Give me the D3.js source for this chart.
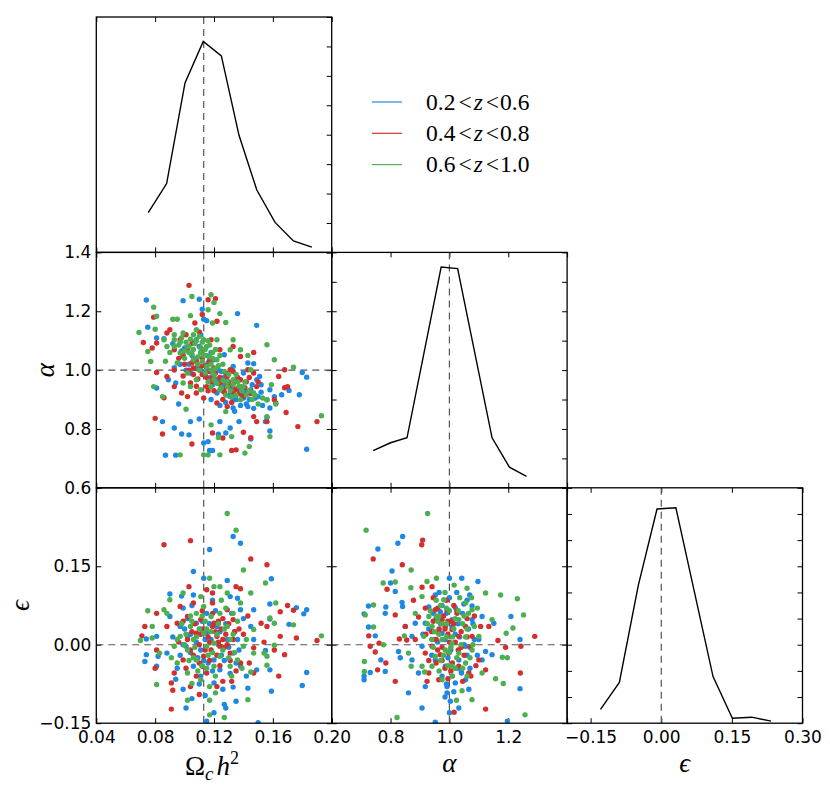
<!DOCTYPE html>
<html>
<head>
<meta charset="utf-8">
<script src="https://cdn.jsdelivr.net/npm/d3@7"></script>
<style>
  body { margin: 0; background: #fff; }
</style>
</head>
<body>
<svg id="chart" width="830" height="793"></svg>
<script>
// ---- data ----
const zBins = [[0.2, 0.6], [0.4, 0.8], [0.6, 1.0]];
const zColors = ["#1e88e5", "#d32f2f", "#4caf50"];

const omegaTicks = [0.04, 0.08, 0.12, 0.16, 0.20];
const alphaTicks = [0.6, 0.8, 1.0, 1.2, 1.4];
const alphaBottomLabels = [0.8, 1.0, 1.2];
const epsTicks = [-0.15, 0.0, 0.15, 0.30];
const epsLeftLabels = [-0.15, 0.0, 0.15];

const omegaFid = 0.113, alphaFid = 1.0, epsFid = 0.0;

// 1D marginal curves (bin centre, density)
const omegaCentres = [0.0753, 0.0878, 0.1003, 0.1127, 0.1250, 0.1370, 0.1491, 0.1615, 0.1740, 0.1865];
const omegaDensity = [1.35, 2.34, 5.76, 7.17, 6.68, 3.98, 2.12, 1.02, 0.39, 0.18];
const alphaCentres = [0.741, 0.800, 0.856, 0.972, 1.028, 1.145, 1.204, 1.262];
const alphaDensity = [1.26, 1.53, 1.70, 7.50, 7.45, 1.70, 0.70, 0.39];
const epsCentres = [-0.129, -0.089, -0.049, -0.009, 0.031, 0.110, 0.151, 0.192, 0.233];
const epsDensity = [0.53, 1.56, 5.25, 8.19, 8.24, 1.78, 0.19, 0.23, 0.08];

// Omega_c h^2 vs alpha
const omegaAlphaZ1 = [[0.074,1.238],[0.099,1.236],[0.110,1.241],[0.112,1.207],[0.136,1.192],[0.149,1.152],[0.075,1.146],[0.081,1.109],[0.086,1.107],[0.115,1.168],[0.180,0.992],[0.183,0.976],[0.178,0.916],[0.183,0.731],[0.158,0.793],[0.155,0.825],[0.166,0.916],[0.171,0.931],[0.085,0.825],[0.093,0.803],[0.098,0.783],[0.103,0.780],[0.104,0.825],[0.110,0.834],[0.113,0.752],[0.116,0.757],[0.117,0.727],[0.119,0.727],[0.123,0.782],[0.128,0.786],[0.124,0.825],[0.131,0.803],[0.137,0.825],[0.145,0.766],[0.156,0.839],[0.087,0.711],[0.094,0.711],[0.096,0.885],[0.158,0.871],[0.161,0.910],[0.093,1.008],[0.089,0.967],[0.094,0.956],[0.099,1.046],[0.108,1.103],[0.111,1.120],[0.104,0.990],[0.118,0.976],[0.120,1.035],[0.124,0.967],[0.127,1.052],[0.133,1.012],[0.131,0.910],[0.133,0.899],[0.122,0.922],[0.138,0.944],[0.143,1.024],[0.147,1.022],[0.151,0.978],[0.152,0.950],[0.145,0.933],[0.149,0.967],[0.158,0.933],[0.143,0.876],[0.133,0.871],[0.156,0.899],[0.113,1.173],[0.110,1.080],[0.081,0.939],[0.105,1.050],[0.115,1.010],[0.125,0.995],[0.100,1.075],[0.118,1.060],[0.128,0.950],[0.140,0.905],[0.092,1.090],
  [0.103,1.020],[0.107,1.005],[0.112,0.995],[0.116,1.025],[0.119,0.950],[0.123,1.000],[0.126,0.930],[0.129,0.960],[0.132,0.940],[0.135,0.900],[0.138,0.880],[0.141,0.930],[0.144,0.900],[0.147,0.870],[0.150,0.910],[0.153,0.880],[0.128,0.890],[0.134,0.860],[0.124,0.880],[0.111,1.060],[0.108,1.040],[0.097,1.020],[0.118,0.900],[0.140,0.990],[0.146,0.950],
  [0.114,0.985],[0.121,0.970],[0.127,0.975],[0.130,0.915],[0.136,0.935],[0.139,0.915],[0.142,0.885],[0.148,0.905],[0.152,0.925],[0.109,1.015],[0.101,1.000],[0.098,1.065],[0.106,1.095],[0.117,1.040],[0.125,0.945]];
const omegaAlphaZ2 = [[0.103,1.288],[0.116,1.239],[0.121,1.243],[0.079,1.180],[0.112,1.189],[0.122,1.166],[0.072,1.094],[0.078,1.075],[0.081,0.992],[0.086,0.906],[0.080,0.836],[0.085,0.783],[0.105,0.749],[0.119,0.786],[0.126,0.769],[0.132,0.727],[0.135,0.729],[0.145,0.770],[0.140,0.789],[0.149,0.825],[0.156,0.825],[0.169,0.856],[0.177,0.808],[0.190,0.825],[0.168,0.940],[0.170,0.944],[0.168,1.001],[0.164,0.978],[0.161,0.899],[0.162,0.888],[0.147,1.060],[0.138,1.046],[0.143,1.001],[0.147,0.990],[0.138,0.967],[0.129,0.978],[0.124,1.069],[0.131,1.001],[0.120,1.007],[0.111,1.012],[0.106,1.007],[0.104,0.956],[0.102,0.910],[0.108,0.922],[0.115,0.944],[0.122,0.888],[0.129,0.876],[0.133,0.922],[0.097,1.103],[0.102,1.069],[0.093,1.069],[0.088,1.126],[0.090,1.137],[0.081,1.092],[0.088,0.978],[0.093,0.944],[0.098,0.922],[0.113,1.069],[0.118,1.103],[0.107,1.160],[0.133,1.080],[0.147,0.842],[0.149,0.944],[0.108,1.030],[0.117,0.995],[0.125,0.960],[0.112,0.985],[0.135,0.935],
  [0.100,1.020],[0.103,1.000],[0.106,0.985],[0.109,0.970],[0.112,1.040],[0.115,0.975],[0.118,0.960],[0.121,0.990],[0.124,0.975],[0.127,0.940],[0.130,0.960],[0.133,0.995],[0.136,0.975],[0.139,0.940],[0.142,0.960],[0.145,0.920],[0.096,1.040],[0.093,1.000],[0.099,0.980],[0.105,1.090],[0.110,1.130],[0.101,1.120],[0.117,1.030],[0.120,0.930],[0.126,0.900],[0.132,0.890],[0.113,0.905],[0.108,0.945],[0.140,0.910],[0.150,0.960],
  [0.105,1.025],[0.110,1.000],[0.114,1.015],[0.119,0.975],[0.123,0.955],[0.128,0.990],[0.131,0.945],[0.134,0.960],[0.137,0.920],[0.141,0.940],[0.099,1.050],[0.102,0.995],[0.116,0.930],[0.127,0.925],[0.144,0.975]];
const omegaAlphaZ3 = [[0.118,1.256],[0.105,1.250],[0.120,1.230],[0.116,1.205],[0.079,1.214],[0.081,1.183],[0.092,1.173],[0.095,1.173],[0.104,1.185],[0.124,1.192],[0.119,1.160],[0.128,1.162],[0.069,1.128],[0.080,1.139],[0.075,1.063],[0.077,1.029],[0.079,0.944],[0.085,0.910],[0.101,0.867],[0.118,0.814],[0.116,0.712],[0.113,0.712],[0.124,0.712],[0.097,0.712],[0.123,0.771],[0.141,0.718],[0.144,0.740],[0.132,0.774],[0.128,0.859],[0.156,0.899],[0.156,0.842],[0.158,0.774],[0.156,1.086],[0.161,1.035],[0.174,1.010],[0.193,0.845],[0.159,0.950],[0.162,0.885],[0.138,1.069],[0.143,1.050],[0.145,1.001],[0.140,0.944],[0.147,0.922],[0.138,0.899],[0.133,1.103],[0.131,1.069],[0.122,1.103],[0.115,1.080],[0.111,1.058],[0.106,1.035],[0.102,1.080],[0.097,1.058],[0.093,1.103],[0.088,1.080],[0.086,1.103],[0.095,1.024],[0.102,0.990],[0.108,0.967],[0.111,0.933],[0.118,0.944],[0.120,0.967],[0.124,0.933],[0.129,0.944],[0.133,0.967],[0.115,1.012],[0.122,1.035],[0.113,1.103],[0.108,1.137],[0.099,1.126],[0.093,1.080],[0.104,0.944],[0.099,0.956],[0.110,1.000],[0.117,1.045],[0.126,1.020],[0.135,0.985],
  [0.098,1.110],[0.101,1.095],[0.104,1.105],[0.107,1.090],[0.110,1.115],[0.112,1.095],[0.114,1.070],[0.117,1.085],[0.119,1.060],[0.100,1.040],[0.103,1.060],[0.106,1.070],[0.109,1.045],[0.112,1.030],[0.115,1.050],[0.118,1.020],[0.121,1.005],[0.124,1.050],[0.127,0.995],[0.130,0.985],[0.133,0.950],[0.136,0.960],[0.139,0.930],[0.142,0.915],[0.146,0.900],[0.150,0.885],[0.125,0.940],[0.128,0.915],[0.131,0.930],[0.120,0.985],[0.096,1.085],[0.093,1.120],[0.090,1.060],[0.087,1.030],[0.106,1.120],[0.116,0.960],[0.122,0.955],[0.135,0.915],[0.141,0.960],[0.153,0.905],
  [0.100,1.065],[0.103,1.080],[0.105,1.055],[0.108,1.100],[0.111,1.075],[0.113,1.050],[0.116,1.100],[0.119,1.040],[0.121,1.070],[0.123,1.015],[0.126,0.965],[0.129,0.960],[0.132,0.910],[0.137,0.945],[0.144,0.930],[0.148,0.915],[0.097,1.095],[0.109,1.020],[0.114,0.990],[0.118,1.000]];

// Omega_c h^2 vs epsilon
const omegaEpsZ1 = [[0.117,0.182],[0.133,0.207],[0.138,0.194],[0.106,0.140],[0.113,0.127],[0.129,0.123],[0.159,0.126],[0.090,0.097],[0.098,0.093],[0.106,0.095],[0.136,0.089],[0.138,0.067],[0.147,0.067],[0.158,0.078],[0.176,0.071],[0.181,0.059],[0.183,0.067],[0.171,0.039],[0.158,0.049],[0.074,0.011],[0.081,0.016],[0.073,-0.032],[0.074,-0.019],[0.082,-0.022],[0.088,-0.016],[0.081,-0.041],[0.094,-0.066],[0.099,-0.085],[0.101,-0.121],[0.105,-0.103],[0.111,-0.060],[0.114,-0.097],[0.115,-0.146],[0.120,-0.130],[0.127,-0.114],[0.128,-0.121],[0.133,-0.081],[0.135,-0.108],[0.143,-0.083],[0.150,-0.149],[0.149,-0.048],[0.155,-0.011],[0.158,-0.048],[0.159,-0.089],[0.180,-0.078],[0.183,-0.053],[0.120,-0.029],[0.111,-0.010],[0.102,0.016],[0.108,0.041],[0.115,0.060],[0.122,0.035],[0.129,0.010],[0.133,-0.016],[0.138,-0.041],[0.124,-0.048],[0.106,-0.041],[0.097,0.035],[0.090,0.054],[0.145,0.035],[0.147,0.010],[0.115,0.022],[0.099,0.070],[0.120,-0.073],[0.101,-0.003],[0.131,0.092],
  [0.100,0.030],[0.104,-0.015],[0.108,0.005],[0.112,0.045],[0.116,-0.035],[0.118,0.010],[0.121,0.065],[0.125,-0.020],[0.128,0.040],[0.131,-0.055],[0.134,0.025],[0.137,-0.010],[0.140,0.050],[0.095,-0.045],[0.092,0.015],[0.110,-0.075],[0.126,-0.085],[0.105,0.075],[0.119,0.085],[0.142,-0.060],[0.097,-0.020],[0.113,-0.030],[0.123,0.000],[0.135,-0.035],[0.102,0.050],
  [0.104,0.020],[0.109,-0.025],[0.114,0.010],[0.119,-0.050],[0.124,0.025],[0.127,-0.030],[0.132,0.060],[0.136,0.010],[0.111,0.030],[0.099,0.000],[0.117,0.040],[0.130,-0.005]];
const omegaEpsZ2 = [[0.086,0.191],[0.104,0.199],[0.145,0.164],[0.156,0.153],[0.103,0.111],[0.135,0.111],[0.138,0.107],[0.119,0.099],[0.170,0.075],[0.174,0.066],[0.165,0.063],[0.156,0.035],[0.165,0.016],[0.176,0.013],[0.190,0.008],[0.154,0.005],[0.161,-0.010],[0.168,-0.019],[0.164,-0.060],[0.147,-0.054],[0.138,-0.035],[0.131,-0.016],[0.126,0.010],[0.124,-0.003],[0.122,0.016],[0.120,0.041],[0.129,0.067],[0.133,0.048],[0.111,0.048],[0.108,0.022],[0.102,0.054],[0.095,0.041],[0.088,0.035],[0.081,0.060],[0.073,0.035],[0.071,0.017],[0.081,-0.010],[0.080,-0.045],[0.093,-0.054],[0.091,-0.073],[0.092,-0.087],[0.091,-0.123],[0.110,-0.095],[0.115,-0.054],[0.122,-0.080],[0.126,-0.070],[0.132,-0.070],[0.144,-0.035],[0.099,-0.029],[0.104,-0.010],[0.113,-0.022],[0.133,0.010],[0.097,0.073],[0.106,0.080],[0.119,0.080],[0.115,0.105],[0.104,-0.080],[0.112,-0.041],[0.147,-0.006],[0.152,0.041],
  [0.110,0.000],[0.113,0.030],[0.116,0.015],[0.118,-0.010],[0.121,0.025],[0.123,0.005],[0.125,0.030],[0.127,-0.005],[0.128,0.020],[0.130,0.040],[0.117,-0.030],[0.105,0.025],[0.101,-0.045],[0.096,0.005],[0.108,-0.060],[0.119,0.060],[0.135,-0.050],[0.140,0.020],[0.124,-0.040],[0.112,0.065],[0.099,0.045],[0.137,0.030],[0.106,-0.020],[0.131,-0.030],[0.143,0.055],
  [0.107,0.040],[0.111,0.020],[0.114,-0.010],[0.119,0.035],[0.122,-0.020],[0.126,0.050],[0.129,0.000],[0.134,0.025],[0.102,0.010],[0.117,0.005],[0.123,0.045],[0.110,-0.035]];
const omegaEpsZ3 = [[0.129,0.251],[0.135,0.219],[0.140,0.143],[0.155,0.118],[0.117,0.127],[0.124,0.111],[0.099,0.099],[0.090,0.086],[0.086,0.067],[0.075,0.065],[0.078,0.035],[0.070,0.008],[0.078,0.013],[0.083,-0.016],[0.081,-0.076],[0.102,-0.106],[0.105,-0.074],[0.117,-0.106],[0.117,-0.134],[0.127,-0.139],[0.121,-0.092],[0.143,-0.105],[0.145,-0.052],[0.156,-0.022],[0.156,-0.039],[0.161,-0.001],[0.161,0.041],[0.162,0.080],[0.158,0.051],[0.174,0.038],[0.193,0.017],[0.145,0.099],[0.138,0.080],[0.133,0.060],[0.129,0.035],[0.124,0.060],[0.118,0.054],[0.113,0.073],[0.108,0.060],[0.104,0.035],[0.102,-0.010],[0.108,-0.029],[0.115,-0.003],[0.120,0.003],[0.124,-0.022],[0.131,-0.041],[0.136,-0.029],[0.140,-0.003],[0.147,0.029],[0.097,0.016],[0.093,-0.003],[0.095,-0.035],[0.102,-0.054],[0.111,-0.067],[0.120,-0.041],[0.113,0.022],[0.106,0.010],[0.088,0.060],[0.111,0.092],[0.120,0.111],[0.129,0.099],[0.147,-0.016],[0.154,-0.016],
  [0.098,0.040],[0.101,0.020],[0.104,0.055],[0.107,-0.005],[0.110,0.030],[0.112,-0.040],[0.114,0.045],[0.116,-0.020],[0.118,0.025],[0.121,-0.060],[0.123,0.040],[0.126,-0.010],[0.128,0.070],[0.130,-0.025],[0.133,0.020],[0.136,0.045],[0.139,-0.045],[0.142,0.010],[0.095,0.010],[0.091,-0.025],[0.117,-0.080],[0.125,0.085],[0.109,-0.050],[0.103,-0.030],[0.132,-0.060],
  [0.100,0.000],[0.105,0.045],[0.108,0.015],[0.112,0.055],[0.115,0.030],[0.119,-0.015],[0.122,0.020],[0.127,0.030],[0.131,0.010],[0.134,-0.015],[0.106,-0.025],[0.115,-0.045]];

// alpha vs epsilon
const alphaEpsZ1 = [[0.841,0.207],[0.825,0.194],[0.757,0.183],[0.805,0.141],[0.725,0.074],[0.710,0.059],[0.725,0.034],[0.748,0.017],[0.782,0.060],[0.784,0.072],[0.800,0.118],[0.816,0.102],[0.839,0.081],[0.841,0.073],[0.710,-0.060],[0.710,-0.067],[0.731,-0.053],[0.767,-0.029],[0.782,-0.051],[0.827,-0.013],[0.833,-0.025],[0.861,-0.092],[0.907,-0.121],[0.918,-0.080],[0.952,-0.148],[0.992,-0.080],[0.992,-0.092],[1.003,-0.108],[1.032,-0.121],[1.066,-0.085],[1.041,-0.054],[1.000,0.127],[1.042,0.127],[1.097,0.121],[1.069,0.095],[1.111,0.054],[1.151,0.041],[1.209,0.054],[1.240,0.010],[1.240,-0.084],[1.197,-0.146],[1.145,-0.019],[1.123,-0.013],[0.930,0.072],[0.952,0.095],[1.020,0.071],[1.049,0.078],[1.077,0.074],[1.077,0.048],[1.009,0.048],[0.975,0.022],[0.918,0.041],[0.884,0.041],[0.873,0.016],[0.907,-0.003],[0.952,-0.029],[0.986,-0.041],[1.032,-0.029],[1.055,-0.003],[1.100,0.010],[1.111,-0.029],[0.873,-0.029],[0.895,-0.054],[1.055,-0.067],[1.020,-0.073],[0.850,0.035],[0.969,0.063],
  [0.930,0.030],[0.955,0.050],[0.975,0.075],[1.000,0.090],[1.025,0.100],[1.045,0.060],[1.065,0.030],[1.085,0.010],[1.095,-0.020],[1.070,-0.045],[1.040,-0.050],[1.010,-0.060],[0.985,-0.100],[1.000,-0.130],[0.960,0.005],[0.940,-0.020],[0.910,0.020],[0.985,0.010],[1.020,0.020],[1.050,0.000],[0.995,-0.025],[1.060,0.085],[0.965,0.100],[1.015,-0.090],[1.030,0.040],
  [0.950,0.010],[0.970,0.040],[0.990,0.060],[1.010,0.035],[1.035,0.015],[1.060,-0.020],[1.005,-0.010],[0.975,-0.060],[1.025,-0.045],[0.945,0.060],[1.080,0.040],[0.990,-0.075]];
const alphaEpsZ2 = [[0.909,0.200],[0.906,0.191],[0.741,0.164],[0.840,0.153],[0.788,0.106],[0.816,0.057],[0.726,0.017],[0.731,-0.003],[0.748,-0.014],[0.761,0.003],[0.784,-0.035],[0.756,-0.048],[0.816,-0.070],[0.850,0.035],[0.855,0.009],[0.830,0.011],[0.878,0.085],[0.907,0.110],[0.941,0.111],[0.918,0.070],[0.952,0.067],[0.975,0.048],[0.986,0.035],[0.964,0.022],[1.009,0.029],[1.032,0.016],[1.055,0.035],[1.077,0.016],[1.106,0.035],[1.134,0.035],[1.165,0.008],[1.191,-0.005],[1.243,-0.003],[1.290,0.016],[1.241,-0.054],[1.123,-0.048],[1.100,-0.029],[1.066,-0.054],[1.032,-0.041],[0.998,-0.016],[0.969,-0.019],[0.941,-0.003],[0.918,-0.016],[0.930,-0.054],[0.964,-0.067],[0.924,-0.070],[1.016,-0.129],[1.123,-0.123],[1.073,-0.060],[0.895,0.053],[0.884,0.010],[0.992,0.067],[1.026,0.060],
  [0.945,0.045],[0.960,0.070],[0.980,0.055],[0.995,0.020],[1.005,0.045],[1.020,0.005],[1.040,0.025],[1.060,0.050],[1.050,-0.020],[1.030,-0.010],[0.975,-0.005],[0.955,-0.035],[0.985,-0.045],[1.010,-0.035],[0.945,0.090],[0.990,0.085],[0.930,-0.030],[1.085,0.055],[1.070,-0.005],[0.965,0.030],[0.995,-0.065],[1.045,-0.070],[0.920,0.020],[1.015,0.075],[1.090,-0.040],
  [0.955,0.010],[0.970,0.050],[0.985,0.030],[1.000,0.005],[1.015,0.040],[1.025,0.065],[1.040,-0.005],[0.975,-0.030],[0.995,0.045],[1.005,-0.050],[0.960,-0.010],[1.060,0.015],[0.940,0.025]];
const alphaEpsZ3 = [[0.926,0.251],[0.717,0.219],[0.870,0.143],[0.775,0.118],[0.816,0.120],[0.869,0.109],[0.742,0.076],[0.714,0.057],[0.742,0.034],[0.776,0.000],[0.847,0.017],[0.711,-0.032],[0.711,-0.051],[0.822,-0.139],[0.870,-0.041],[0.916,-0.052],[0.924,0.121],[0.956,0.127],[1.016,0.114],[1.060,0.108],[1.123,0.099],[1.174,0.095],[1.231,0.088],[1.252,0.057],[1.216,0.032],[1.193,0.022],[1.197,-0.025],[1.180,-0.024],[1.157,-0.065],[1.183,-0.074],[1.257,-0.134],[1.077,-0.105],[1.043,-0.088],[1.024,-0.106],[0.975,-0.067],[0.941,-0.041],[0.913,0.016],[0.941,0.035],[0.964,0.054],[0.930,0.054],[0.975,0.010],[1.009,0.003],[0.986,-0.010],[1.032,-0.016],[1.055,-0.035],[1.077,-0.010],[1.100,0.016],[1.077,0.067],[1.055,0.080],[1.032,0.048],[1.009,-0.041],[0.952,-0.022],[0.884,0.060],[0.907,0.092],[1.145,0.048],[1.111,-0.054],[0.907,-0.041],[0.861,-0.016],[0.981,0.086],
  [0.935,0.065],[0.950,0.025],[0.960,0.045],[0.970,0.075],[0.980,-0.020],[0.990,0.040],[1.000,0.065],[1.010,0.015],[1.020,0.050],[1.035,0.090],[1.045,-0.045],[1.055,0.015],[1.065,0.060],[1.070,-0.025],[1.085,0.035],[1.095,0.070],[1.010,-0.060],[0.965,-0.050],[0.945,-0.005],[0.925,0.040],[1.040,0.000],[0.995,-0.040],[1.025,-0.025],[0.985,0.100],[1.060,-0.060],[0.955,0.085],[1.005,-0.005],[1.075,0.090],
  [0.940,0.010],[0.955,0.055],[0.965,0.020],[0.975,0.040],[0.990,0.015],[1.000,-0.015],[1.015,0.030],[1.030,0.065],[1.045,0.040],[1.060,0.030],[1.050,0.055],[0.970,-0.030],[1.020,-0.045],[0.990,0.070],[1.080,0.000]];

// ---- layout ----
const gridLeft = 96.3, gridTop = 17, cell = 235.4;
const tickFont = "DejaVu Sans, sans-serif";
const mathFont = "Liberation Serif, DejaVu Serif, serif";

const svg = d3.select("#chart");

const xOmega = d3.scaleLinear().domain([0.04, 0.20]).range([gridLeft, gridLeft + cell]);
const xAlpha = d3.scaleLinear().domain([0.6, 1.4]).range([gridLeft + cell, gridLeft + 2 * cell]);
const xEps = d3.scaleLinear().domain([-0.2, 0.3]).range([gridLeft + 2 * cell, gridLeft + 3 * cell]);
const yAlpha = d3.scaleLinear().domain([0.6, 1.4]).range([gridTop + 2 * cell, gridTop + cell]);
const yEps = d3.scaleLinear().domain([-0.15, 0.30]).range([gridTop + 3 * cell, gridTop + 2 * cell]);
const yHistOmega = d3.scaleLinear().domain([0, 8]).range([gridTop + cell, gridTop]);
const yHistAlpha = d3.scaleLinear().domain([0, 8]).range([gridTop + 2 * cell, gridTop + cell]);
const yHistEps = d3.scaleLinear().domain([0, 9]).range([gridTop + 3 * cell, gridTop + 2 * cell]);

const near = (list, d) => list && list.some(v => Math.abs(v - d) < 1e-9);

// inward ticks on the chosen sides, labels only where asked
function panel(col, row, x, y, o) {
  const x0 = gridLeft + col * cell, y0 = gridTop + row * cell;
  const g = svg.append("g");
  const fmtX = d => near(o.xLabels, d) ? o.xFmt(d) : "";
  const fmtY = d => near(o.yLabels, d) ? o.yFmt(d) : "";
  const style = a => a.attr("font-size", 17).attr("font-family", tickFont)
    .call(s => s.select(".domain").remove())
    .call(s => s.selectAll("text").attr("fill", "#000"));

  g.append("g").attr("transform", `translate(0,${y0 + cell})`)
    .call(d3.axisBottom(x).tickValues(o.xTicks).tickSizeInner(-5).tickSizeOuter(0).tickPadding(8).tickFormat(fmtX))
    .call(style);
  g.append("g").attr("transform", `translate(0,${y0})`)
    .call(d3.axisTop(x).tickValues(o.xTicks).tickSizeInner(-5).tickSizeOuter(0).tickFormat(""))
    .call(style);
  if (o.leftTicks !== false) {
    g.append("g").attr("transform", `translate(${x0},0)`)
      .call(d3.axisLeft(y).tickValues(o.yTicks).tickSizeInner(-5).tickSizeOuter(0).tickPadding(5).tickFormat(fmtY))
      .call(style);
  }
  g.append("g").attr("transform", `translate(${x0 + cell},0)`)
    .call(d3.axisRight(y).tickValues(o.yTicks).tickSizeInner(-5).tickSizeOuter(0).tickFormat(""))
    .call(style);

  const id = `clip-${col}-${row}`;
  svg.append("clipPath").attr("id", id)
    .append("rect").attr("x", x0).attr("y", y0).attr("width", cell).attr("height", cell);
  const body = svg.append("g").attr("clip-path", `url(#${id})`);

  const dash = l => l.attr("stroke", "#555").attr("stroke-width", 1.2).attr("stroke-dasharray", "7,5");
  if (o.vline != null) {
    body.append("line").attr("x1", x(o.vline)).attr("x2", x(o.vline))
      .attr("y1", y0).attr("y2", y0 + cell).call(dash);
  }
  if (o.hline != null) {
    body.append("line").attr("x1", x0).attr("x2", x0 + cell)
      .attr("y1", y(o.hline)).attr("y2", y(o.hline)).call(dash);
  }

  if (o.curve) {
    const line = d3.line().x(d => x(d[0])).y(d => y(d[1]));
    body.append("path").datum(o.curve)
      .attr("d", line).attr("fill", "none")
      .attr("stroke", "#000").attr("stroke-width", 1.4);
  }
  if (o.points) {
    o.points.forEach((pts, i) => {
      body.append("g").selectAll("circle").data(pts).join("circle")
        .attr("cx", d => x(d[0])).attr("cy", d => y(d[1]))
        .attr("r", 2.7).attr("fill", zColors[i]);
    });
  }

  svg.append("rect").attr("x", x0).attr("y", y0).attr("width", cell).attr("height", cell)
    .attr("fill", "none").attr("stroke", "#000").attr("stroke-width", 1.3);
}

const hist8 = d3.range(0, 9);
const hist9 = d3.range(0, 10);

// diagonal
panel(0, 0, xOmega, yHistOmega, {
  xTicks: omegaTicks, yTicks: hist8, leftTicks: false, vline: omegaFid,
  curve: d3.zip(omegaCentres, omegaDensity)
});
panel(1, 1, xAlpha, yHistAlpha, {
  xTicks: alphaTicks, yTicks: hist8, vline: alphaFid,
  curve: d3.zip(alphaCentres, alphaDensity)
});
panel(2, 2, xEps, yHistEps, {
  xTicks: epsTicks, yTicks: hist9, vline: epsFid,
  xLabels: epsTicks, xFmt: d3.format(".2f"),
  curve: d3.zip(epsCentres, epsDensity)
});

// off-diagonal scatter
panel(0, 1, xOmega, yAlpha, {
  xTicks: omegaTicks, yTicks: alphaTicks, vline: omegaFid, hline: alphaFid,
  yLabels: alphaTicks, yFmt: d3.format(".1f"),
  points: [omegaAlphaZ1, omegaAlphaZ2, omegaAlphaZ3]
});
panel(0, 2, xOmega, yEps, {
  xTicks: omegaTicks, yTicks: epsTicks, vline: omegaFid, hline: epsFid,
  xLabels: omegaTicks, xFmt: d3.format(".2f"),
  yLabels: epsLeftLabels, yFmt: d3.format(".2f"),
  points: [omegaEpsZ1, omegaEpsZ2, omegaEpsZ3]
});
panel(1, 2, xAlpha, yEps, {
  xTicks: alphaTicks, yTicks: epsTicks, vline: alphaFid, hline: epsFid,
  xLabels: alphaBottomLabels, xFmt: d3.format(".1f"),
  points: [alphaEpsZ1, alphaEpsZ2, alphaEpsZ3]
});

// axis titles
const xt = svg.append("text").attr("x", gridLeft + cell / 2 - 2).attr("y", 775)
  .attr("text-anchor", "middle").attr("font-family", mathFont).attr("font-size", 27);
xt.append("tspan").text("Ω");
xt.append("tspan").attr("font-style", "italic").attr("font-size", 19).attr("dy", 5).text("c");
xt.append("tspan").attr("font-style", "italic").attr("dx", 3).attr("dy", -5).text("h");
xt.append("tspan").attr("font-size", 18).attr("dy", -11).text("2");

svg.append("text").attr("x", gridLeft + 1.5 * cell).attr("y", 772)
  .attr("text-anchor", "middle").attr("font-family", mathFont).attr("font-style", "italic")
  .attr("font-size", 27).text("α");
svg.append("text").attr("x", gridLeft + 2.5 * cell).attr("y", 772)
  .attr("text-anchor", "middle").attr("font-family", mathFont).attr("font-style", "italic")
  .attr("font-size", 27).text("ϵ");

svg.append("text").attr("transform", `translate(53.5,${gridTop + 1.5 * cell}) rotate(-90)`)
  .attr("text-anchor", "middle").attr("font-family", mathFont).attr("font-style", "italic")
  .attr("font-size", 27).text("α");
svg.append("text").attr("transform", `translate(28.5,${gridTop + 2.5 * cell}) rotate(-90)`)
  .attr("text-anchor", "middle").attr("font-family", mathFont).attr("font-style", "italic")
  .attr("font-size", 27).text("ϵ");

// legend
const legend = svg.append("g");
zBins.forEach((b, i) => {
  const ly = 102 + i * 31.3;
  legend.append("line").attr("x1", 372).attr("x2", 402).attr("y1", ly).attr("y2", ly)
    .attr("stroke", zColors[i]).attr("stroke-width", 1.2);
  const t = legend.append("text").attr("x", 426).attr("y", ly + 7.5)
    .attr("font-family", mathFont).attr("font-size", 23.5);
  t.append("tspan").text(b[0].toFixed(1));
  t.append("tspan").attr("dx", 3).text("<");
  t.append("tspan").attr("dx", 2).attr("font-style", "italic").text("z");
  t.append("tspan").attr("dx", 3).text("<");
  t.append("tspan").attr("dx", 1).text(b[1].toFixed(1));
});
</script>
</body>
</html>
